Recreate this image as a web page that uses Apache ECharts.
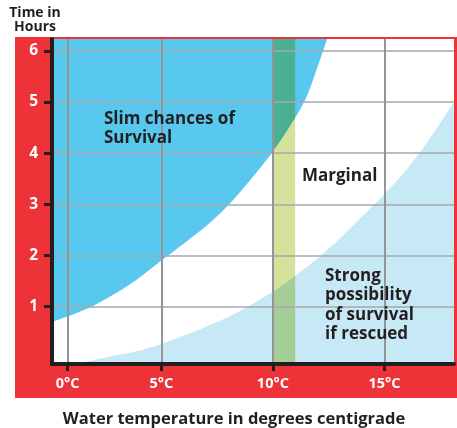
<!DOCTYPE html>
<html>
<head>
<meta charset="utf-8">
<script src="https://cdn.jsdelivr.net/npm/echarts@6/dist/echarts.min.js"></script>
<style>
html, body { margin: 0; padding: 0; background: #fff; }
#chart { width: 457px; height: 428px; }
</style>
</head>
<body>
<div id="chart"></div>
<script>
// axis ticks (the 0°C tick sits a bit right of the scale origin in the original drawing)
var tempTicks = [0.8, 5, 10, 15];
var tempLabels = ['0°C', '5°C', '10°C', '15°C'];
var hourTicks = [1, 2, 3, 4, 5, 6];

// upper boundary - above it chances are slim
var slimTemp  = [0.1, 1, 2, 3, 4, 5, 6, 7, 8, 9, 10, 11, 11.5, 12, 12.45];
var slimHours = [0.70, 0.84, 1.03, 1.27, 1.56, 1.90, 2.23, 2.57, 2.98, 3.48, 4.03, 4.69, 5.09, 5.68, 6.25];

// lower boundary - below it survival is likely if rescued
var strongTemp  = [1.4, 2, 3, 4, 5, 6, 7, 8, 9, 10, 11, 12, 13, 14, 15, 16, 17, 18.12];
var strongHours = [-0.09, -0.04, 0.05, 0.14, 0.27, 0.43, 0.61, 0.8, 1.03, 1.29, 1.6, 1.94, 2.33, 2.76, 3.2, 3.68, 4.26, 5.0];

// marginal band (°C)
var marginalBand = [10, 11];

var X_MIN = 0.1, X_MAX = 18.12;
var Y_MIN = -0.12, Y_MAX = 6.23;

function pairs(xs, ys) {
    return xs.map(function (x, i) { return [x, ys[i]]; });
}

var FONT = '"Open Sans"';
var INK = '#231f20';

var chart = echarts.init(document.getElementById('chart'));

var option = {
    backgroundColor: '#fff',
    animation: false,
    grid: {
        left: 52, right: 3, top: 39, bottom: 64,
        show: true, backgroundColor: '#fff', borderWidth: 0,
        outerBoundsMode: 'none'
    },
    xAxis: {
        type: 'value', min: X_MIN, max: X_MAX, z: 5,
        axisLine: { show: true, onZero: false, lineStyle: { color: INK, width: 4 } },
        axisTick: { show: true, customValues: tempTicks, length: 7, lineStyle: { color: INK, width: 3 } },
        axisLabel: {
            customValues: tempTicks,
            formatter: function (v) {
                var i = tempTicks.indexOf(v);
                return i >= 0 ? tempLabels[i] : '';
            },
            color: '#fff', fontFamily: FONT, fontWeight: 'bold', fontSize: 14.5, margin: 12
        },
        splitLine: { show: true, lineStyle: { color: '#939598', width: 2 } }
    },
    yAxis: {
        type: 'value', min: Y_MIN, max: Y_MAX, z: 5,
        axisLine: { show: true, onZero: false, lineStyle: { color: INK, width: 4 } },
        axisTick: { show: true, customValues: hourTicks, length: 8, lineStyle: { color: INK, width: 3 } },
        axisLabel: {
            customValues: hourTicks,
            color: '#fff', fontFamily: FONT, fontWeight: 'bold', fontSize: 15.5, margin: 14
        },
        splitLine: { show: true, lineStyle: { color: '#a7a9ac', width: 1.5 } }
    },
    graphic: [
        { // red frame behind the plot
            type: 'rect', z: -10, silent: true,
            shape: { x: 15, y: 37, width: 442, height: 361 },
            style: { fill: '#ee3338' }
        },
        {
            type: 'text', z: 100, style: {
                x: 35, y: 6, text: 'Time in\nHours', align: 'center', verticalAlign: 'top',
                font: 'bold 14px ' + FONT, lineHeight: 14, fill: INK
            }
        },
        {
            type: 'text', z: 100, style: {
                x: 234, y: 409, text: 'Water temperature in degrees centigrade', align: 'center', verticalAlign: 'top',
                font: 'bold 16.5px ' + FONT, lineHeight: 20, fill: INK
            }
        },
        {
            type: 'text', z: 100, style: {
                x: 104, y: 110, text: 'Slim chances of\nSurvival', verticalAlign: 'top',
                font: 'bold 17px ' + FONT, lineHeight: 19, fill: INK
            }
        },
        {
            type: 'text', z: 100, style: {
                x: 302, y: 167, text: 'Marginal', verticalAlign: 'top',
                font: 'bold 17px ' + FONT, lineHeight: 19, fill: INK
            }
        },
        {
            type: 'text', z: 100, style: {
                x: 325, y: 266, text: 'Strong\npossibility\nof survival\nif rescued', verticalAlign: 'top',
                font: 'bold 17px ' + FONT, lineHeight: 19.5, fill: INK
            }
        }
    ],
    series: [
        {
            name: 'Slim chances of survival',
            type: 'line', z: 1,
            data: pairs(slimTemp, slimHours),
            smooth: 0.3, showSymbol: false,
            lineStyle: { width: 0 },
            areaStyle: { color: '#58c8ef', opacity: 1, origin: 'end' }
        },
        {
            name: 'Strong possibility of survival',
            type: 'line', z: 1,
            data: pairs(strongTemp, strongHours),
            smooth: 0.3, showSymbol: false,
            lineStyle: { width: 0 },
            areaStyle: { color: '#c7e8f5', opacity: 1, origin: 'start' }
        },
        {
            name: 'Marginal',
            type: 'custom', z: 2,
            blendMode: 'multiply',
            data: [marginalBand],
            encode: { x: [0, 1] },
            renderItem: function (params, api) {
                var p0 = api.coord([api.value(0), Y_MAX]);
                var p1 = api.coord([api.value(1), Y_MIN]);
                return {
                    type: 'rect',
                    shape: { x: p0[0], y: p0[1], width: p1[0] - p0[0], height: p1[1] - p0[1] },
                    style: { fill: '#d4e29c' }
                };
            }
        }
    ]
};

chart.setOption(option);
</script>
</body>
</html>
